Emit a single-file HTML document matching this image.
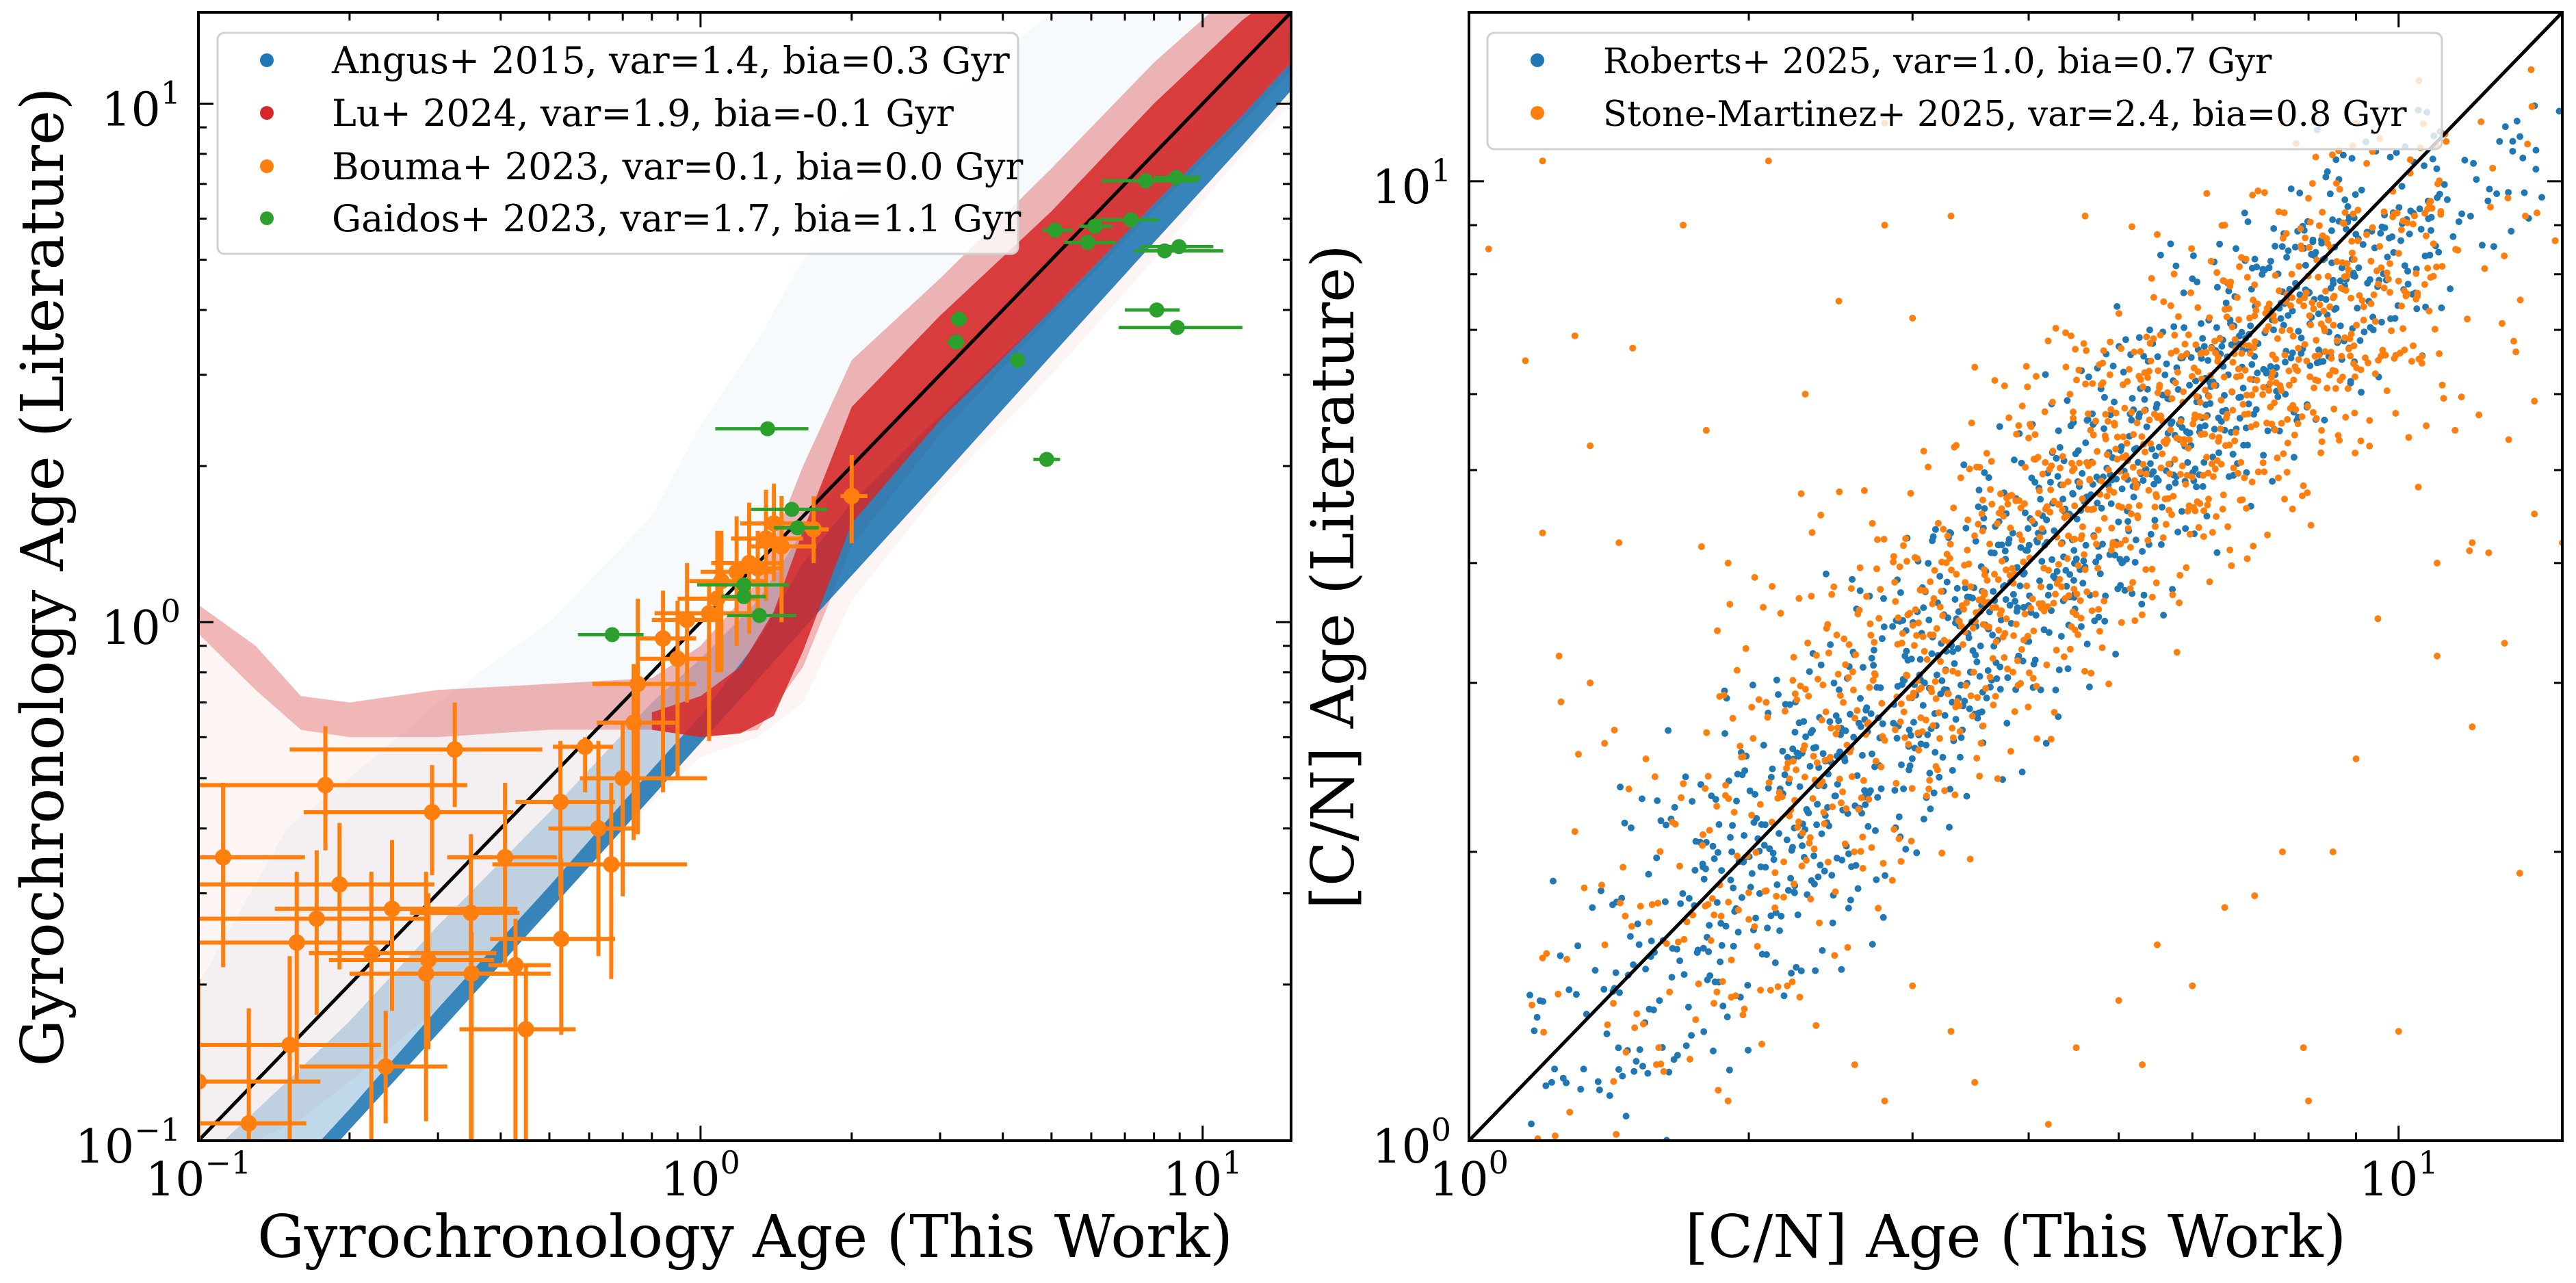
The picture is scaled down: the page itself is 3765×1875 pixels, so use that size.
<!DOCTYPE html>
<html><head><meta charset="utf-8">
<style>
html,body{margin:0;padding:0;background:#fff;}
svg{display:block;font-family:"DejaVu Serif","Liberation Serif",serif;}
</style></head>
<body>
<svg id="fig" width="3765" height="1875" viewBox="0 0 3765 1875" xmlns="http://www.w3.org/2000/svg">
<defs>
<clipPath id="clipL"><rect x="290" y="18" width="1597" height="1649"/></clipPath>
<clipPath id="clipR"><rect x="2147" y="18" width="1598" height="1649"/></clipPath>
</defs>
<rect x="0" y="0" width="3765" height="1875" fill="#fff"/>
<g id="gL" clip-path="url(#clipL)"></g>
<g id="gR" clip-path="url(#clipR)"></g>
<g id="axes"></g>
</svg>
<script>
// ---------- Left panel data (gyrochronology) ----------
const angusX      = [0.1,0.15,0.2,0.3,0.5,0.8,1.0,1.3,1.6,2,3,5,8,12,15];
const angusDenseLo= [0.05,0.077,0.105,0.161,0.278,0.46,0.585,0.775,0.97,1.23,1.89,3.27,5.4,8.3,10.6];
const angusDenseHi= [0.055,0.085,0.115,0.18,0.31,0.52,0.66,0.92,1.3,1.7,2.5,4.0,6.4,9.5,12];
const angusMidHi  = [0.09,0.13,0.17,0.26,0.43,0.7,0.85,1.1,1.5,2.0,3.0,5,8,12,15];
const angusFaintHi= [0.2,0.4,0.5,0.7,1.0,1.6,2.4,3.5,5,7,10,15,16,16,16];

const luDenseX  = [0.8,1.0,1.2,1.4,1.6,2,3,5,8,12,15];
const luDenseLo = [0.62,0.6,0.61,0.66,0.88,1.55,2.45,4.0,6.4,9.5,12];
const luDenseHi = [0.67,0.72,0.82,1.05,1.5,2.6,3.9,6.2,10,14.5,17];
const luMidX    = [0.1,0.13,0.16,0.2,0.3,0.5,0.8,1.0,1.3,1.6,2,3,5,8,12,15];
const luMidLo   = [0.95,0.74,0.62,0.6,0.6,0.62,0.62,0.6,0.62,0.82,1.4,2.3,3.9,6.2,9.2,11.5];
const luMidHi   = [1.08,0.9,0.72,0.7,0.74,0.76,0.78,0.9,1.2,2.0,3.2,4.6,7.5,12,17,20];
const luFaintLo = [0.1,0.1,0.11,0.13,0.18,0.28,0.45,0.55,0.6,0.7,1.1,1.8,3.0,5.0,8,10];

// Bouma+ 2023: x, y, xlo, xhi, ylo, yhi
const boumaX   = [0.112,0.179,0.324,0.292,0.191,0.172,0.157,0.243,0.221,0.284,0.287,0.349,0.35,0.408,0.428,0.528,0.449,0.236,0.152,0.10,0.126,0.526,0.589,0.626,0.664,0.70,0.736,0.75,0.842,1.04,0.94,1.08,1.18,1.30,2.0,1.68,1.35,1.45,1.25,1.4,0.9,1.1];
const boumaY   = [0.352,0.485,0.568,0.43,0.312,0.268,0.241,0.28,0.23,0.21,0.223,0.275,0.21,0.352,0.218,0.245,0.164,0.139,0.153,0.13,0.108,0.45,0.575,0.40,0.341,0.50,0.64,0.76,0.93,1.04,1.01,1.11,1.25,1.27,1.75,1.51,1.45,1.4,1.3,1.55,0.85,1.2];
const boumaXlo = [0.08,0.08,0.152,0.162,0.08,0.08,0.08,0.142,0.166,0.2,0.182,0.264,0.29,0.313,0.378,0.381,0.331,0.159,0.08,0.08,0.08,0.428,0.508,0.498,0.385,0.575,0.621,0.609,0.75,0.81,0.8,0.9,1.0,1.15,1.9,1.6,1.15,1.25,1.05,1.2,0.75,0.95];
const boumaXhi = [0.163,0.343,0.484,0.424,0.295,0.29,0.24,0.432,0.392,0.42,0.388,0.436,0.503,0.518,0.503,0.676,0.564,0.313,0.231,0.175,0.164,0.676,0.67,0.736,0.94,1.03,0.89,0.98,0.98,1.33,1.1,1.3,1.4,1.45,2.15,1.8,1.6,1.7,1.45,1.65,1.05,1.35];
const boumaYlo = [0.216,0.363,0.44,0.325,0.214,0.175,0.13,0.178,0.1,0.109,0.15,0.08,0.08,0.216,0.08,0.16,0.08,0.108,0.08,0.08,0.08,0.296,0.47,0.227,0.205,0.296,0.38,0.39,0.47,0.59,0.7,0.8,0.9,1.0,1.42,1.3,1.1,1.0,0.95,1.2,0.5,0.8];
const boumaYhi = [0.49,0.63,0.70,0.53,0.41,0.363,0.33,0.38,0.33,0.33,0.3,0.39,0.252,0.49,0.268,0.35,0.218,0.178,0.227,0.205,0.18,0.59,0.60,0.59,0.49,0.64,0.83,1.11,1.15,1.19,1.3,1.5,1.6,1.5,2.1,1.75,1.8,1.75,1.7,1.85,1.1,1.5];

// Gaidos+ 2023: x, y, xlo, xhi
const gaidosX   = [0.667,1.36,1.52,1.56,1.22,1.22,1.31,3.27,3.23,4.28,4.89,5.08,5.9,6.1,7.2,7.7,8.85,8.4,8.97,8.1,8.9];
const gaidosY   = [0.946,2.36,1.65,1.52,1.18,1.12,1.03,3.84,3.47,3.2,2.06,5.7,5.4,5.8,5.97,7.1,7.2,5.2,5.3,4.0,3.7];
const gaidosXlo = [0.57,1.07,1.26,1.4,0.985,1.1,1.13,3.15,3.1,4.15,4.6,4.8,5.3,5.7,6.2,6.3,8.0,7.3,7.5,7.0,6.8];
const gaidosXhi = [0.77,1.64,1.79,1.72,1.5,1.35,1.55,3.4,3.35,4.4,5.2,5.5,6.7,6.6,8.2,9.8,9.9,11,10.5,9.0,12];

// ---------- Right panel data ([C/N]) ----------
const binX      = [1.3,1.6,2.0,2.5,3.2,4.0,5.0,6.3,8.0,10,12.6,14.5];
const robMed    = [1.3,1.6,1.96,2.4,3.1,3.9,4.9,6.1,7.5,8.6,9.8,10.9];
const robSpread = [0.13,0.12,0.11,0.11,0.1,0.1,0.1,0.09,0.085,0.075,0.05,0.04];
const robCount  = [35,70,110,140,150,150,150,150,140,85,25,8];
const stoMed    = [1.4,1.6,2.1,2.7,3.3,4.1,5.0,5.8,6.9,7.8,8.0,9.0];
const stoSpread = [0.2,0.18,0.15,0.14,0.12,0.12,0.11,0.11,0.1,0.1,0.15,0.15];
const stoCount  = [20,40,80,120,150,160,170,180,170,105,20,5];
const outX = [1.05,1.2,1.15,1.2,1.3,1.35,1.25,1.35,1.4,1.3,1.2,1.5,1.45,1.55,1.7,1.8,1.9,1.85,2.1,2.3,2.5,2.8,2.8,3.0,3.3,3.3,3.5,4.0,4.6,5.5,6.5,7,7.5,9,8,11.5,12,13,14,15,14,12.5,11,9,8.5,7.5,7,6.5,5.5,5.0,4.5,4.2,3.5,3.3,3.0,2.6,2.2,8,7.9,13.5,10,12,9.5,10.5,11,6,5.3,1.9,1.6,2.8];
const outY = [8.5,10.5,6.5,4.3,6.9,5.3,3.2,3.0,1.6,2.1,1.55,6.7,4.2,2.5,9.0,5.5,4.0,3.4,10.5,6.0,7.5,9.0,11.5,7.2,9.2,11.5,6.4,5.4,9.2,8.8,9.0,7.8,11.5,11.5,9.6,5.5,4.2,3.3,4.5,4.2,5.9,4.1,3.2,2.5,2.0,2.0,1.8,1.75,1.6,1.4,1.25,1.04,1.15,1.3,1.45,1.2,1.45,1.1,1.25,1.9,1.3,2.7,3.5,4.8,4.0,1.45,1.2,1.1,1.25,1.1];

const C_BLUE='#1f77b4', C_RED='#d62728', C_ORANGE='#ff7f0e', C_GREEN='#2ca02c';
const NS='http://www.w3.org/2000/svg';
const L={x0:290,x1:1887,y0:18,y1:1667,xmin:0.1,xmax:15,ymin:0.1,ymax:15};
const R={x0:2147,x1:3745,y0:18,y1:1667,xmin:1,xmax:15,ymin:1,ymax:15};
function sx(A,v){return A.x0+(Math.log10(v)-Math.log10(A.xmin))/(Math.log10(A.xmax)-Math.log10(A.xmin))*(A.x1-A.x0);}
function sy(A,v){return A.y1-(Math.log10(v)-Math.log10(A.ymin))/(Math.log10(A.ymax)-Math.log10(A.ymin))*(A.y1-A.y0);}
function mk(tag,attrs,parent){const e=document.createElementNS(NS,tag);for(const k in attrs)e.setAttribute(k,attrs[k]);parent.appendChild(e);return e;}
const gL=document.getElementById('gL'), gR=document.getElementById('gR'), gA=document.getElementById('axes');

function band(A,g,xs,lo,hi,color,op,name){
  let d='';
  for(let i=0;i<xs.length;i++) d+=(i?'L':'M')+sx(A,xs[i]).toFixed(1)+','+sy(A,hi[i]).toFixed(1);
  for(let i=xs.length-1;i>=0;i--) d+='L'+sx(A,xs[i]).toFixed(1)+','+sy(A,lo[i]).toFixed(1);
  const p=mk('path',{d:d+'Z',fill:color,'fill-opacity':op,stroke:'none'},g);
  
  
}
band(L,gL,angusX,angusDenseLo,angusFaintHi,C_BLUE,0.04,'angus-sparse-cloud');
band(L,gL,luMidX,luFaintLo,luMidHi,C_RED,0.05,'lu-sparse-cloud');
band(L,gL,angusX,angusDenseLo,angusMidHi,C_BLUE,0.25,'angus-mid-cloud');
band(L,gL,luMidX,luMidLo,luMidHi,C_RED,0.3,'lu-mid-cloud');
band(L,gL,angusX,angusDenseLo,angusDenseHi,C_BLUE,0.85,'angus-dense-band');
band(L,gL,luDenseX,luDenseLo,luDenseHi,C_RED,0.85,'lu-dense-band');

let dl=mk('line',{x1:sx(L,0.1),y1:sy(L,0.1),x2:sx(L,15),y2:sy(L,15),stroke:'#000','stroke-width':5},gL);



for(let i=0;i<boumaX.length;i++){
  const g=mk('g',{},gL);
  
  
  const cx=sx(L,boumaX[i]), cy=sy(L,boumaY[i]);
  mk('line',{x1:sx(L,boumaXlo[i]),x2:sx(L,boumaXhi[i]),y1:cy,y2:cy,stroke:C_ORANGE,'stroke-width':6},g);
  mk('line',{x1:cx,x2:cx,y1:sy(L,boumaYlo[i]),y2:sy(L,boumaYhi[i]),stroke:C_ORANGE,'stroke-width':6},g);
  mk('circle',{cx:cx,cy:cy,r:12,fill:C_ORANGE},g);
}
for(let i=0;i<gaidosX.length;i++){
  const g=mk('g',{},gL);
  
  
  const cx=sx(L,gaidosX[i]), cy=sy(L,gaidosY[i]);
  mk('line',{x1:sx(L,gaidosXlo[i]),x2:sx(L,gaidosXhi[i]),y1:cy,y2:cy,stroke:C_GREEN,'stroke-width':5},g);
  mk('circle',{cx:cx,cy:cy,r:11,fill:C_GREEN},g);
}

function halton(i,b){let f=1,r=0;while(i>0){f/=b;r+=f*(i%b);i=Math.floor(i/b);}return r;}
function cloud(meds,spreads,counts,color,name,off){
  const g=mk('g',{fill:color},gR);
  
  
  let k=off;
  for(let b=0;b<binX.length;b++){
    const lx0=Math.log10(binX[b]);
    for(let j=0;j<counts[b];j++){
      k++;
      const u=halton(k,2)-0.5, v=halton(k,3)+halton(k,5)+halton(k,7)-1.5;
      const lx=lx0+u*0.1;
      const ly=Math.log10(meds[b])+u*0.1*0.9+v*spreads[b]*1.6;
      mk('circle',{cx:sx(R,Math.pow(10,lx)).toFixed(1),cy:sy(R,Math.pow(10,ly)).toFixed(1),r:5},g);
    }
  }
}
cloud(robMed,robSpread,robCount,C_BLUE,'roberts-points',0);
cloud(stoMed,stoSpread,stoCount,C_ORANGE,'stone-martinez-points',5000);
const go=mk('g',{fill:C_ORANGE},gR);


for(let i=0;i<outX.length;i++) mk('circle',{cx:sx(R,outX[i]),cy:sy(R,outY[i]),r:5},go);
dl=mk('line',{x1:sx(R,1),y1:sy(R,1),x2:sx(R,15),y2:sy(R,15),stroke:'#000','stroke-width':5},gR);



function label10(parent,x,y,exp,anchor,name){
  const t=mk('text',{x:x,y:y,'font-size':68,'text-anchor':anchor,fill:'#000'},parent);
  
  
  t.appendChild(document.createTextNode('10'));
  const s=mk('tspan',{'font-size':46,dy:-32},t);
  s.textContent=exp;
}
function axes(A,decadesX,decadesY,pre){
  const g=mk('g',{},gA);
  
  
  const r=mk('rect',{x:A.x0,y:A.y0,width:A.x1-A.x0,height:A.y1-A.y0,fill:'none',stroke:'#000','stroke-width':4},g);
  
  
  const tk=mk('g',{stroke:'#000','stroke-width':3},g);
  
  
  for(const d of decadesX){
    for(let m=1;m<10;m++){
      const v=m*Math.pow(10,d); if(v<A.xmin-1e-9||v>A.xmax+1e-9) continue;
      const x=sx(A,v), len=m===1?22:12;
      mk('line',{x1:x,x2:x,y1:A.y1,y2:A.y1-len},tk);
      mk('line',{x1:x,x2:x,y1:A.y0,y2:A.y0+len},tk);
    }
    const v=Math.pow(10,d);
    if(v>=A.xmin&&v<=A.xmax) label10(g,sx(A,v),1747,d<0?'−'+(-d):String(d),'middle',pre+'-x-tick-label');
  }
  for(const d of decadesY){
    for(let m=1;m<10;m++){
      const v=m*Math.pow(10,d); if(v<A.ymin-1e-9||v>A.ymax+1e-9) continue;
      const y=sy(A,v), len=m===1?22:12;
      mk('line',{x1:A.x0,x2:A.x0+len,y1:y,y2:y},tk);
      mk('line',{x1:A.x1,x2:A.x1-len,y1:y,y2:y},tk);
    }
    const v=Math.pow(10,d);
    if(v>=A.ymin&&v<=A.ymax) label10(g,A.x0-26,sy(A,v)+32,d<0?'−'+(-d):String(d),'end',pre+'-y-tick-label');
  }
}
axes(L,[-1,0,1],[-1,0,1],'left');
axes(R,[0,1],[0,1],'right');

function txt(x,y,s,size,rot,name){
  const t=mk('text',{x:x,y:y,'font-size':size,'text-anchor':'middle',fill:'#000'},gA);
  if(rot) t.setAttribute('transform','rotate(-90 '+x+' '+y+')');
  
  
  t.textContent=s;
}
txt(1089,1837,'Gyrochronology Age (This Work)',86,false,'left-x-axis-title');
txt(92,843,'Gyrochronology Age (Literature)',86,true,'left-y-axis-title');
txt(2946,1837,'[C/N] Age (This Work)',86,false,'right-x-axis-title');
txt(1978,843,'[C/N] Age (Literature)',86,true,'right-y-axis-title');

function legend(x,y,w,h,items,mx,tx,rows,fs,name){
  const g=mk('g',{},gA);
  
  
  mk('rect',{x:x,y:y,width:w,height:h,rx:10,fill:'#fff','fill-opacity':0.8,stroke:'#d0d0d0','stroke-width':3},g);
  items.forEach((it,i)=>{
    const e=mk('g',{},g);
    
    
    mk('circle',{cx:mx,cy:rows[i],r:10,fill:it[1]},e);
    const t=mk('text',{x:tx,y:rows[i]+19,'font-size':fs,fill:'#000'},e);
    t.textContent=it[0];
  });
}
legend(318,48,1170,323,[
 ['Angus+ 2015, var=1.4, bia=0.3 Gyr',C_BLUE],
 ['Lu+ 2024, var=1.9, bia=-0.1 Gyr',C_RED],
 ['Bouma+ 2023, var=0.1, bia=0.0 Gyr',C_ORANGE],
 ['Gaidos+ 2023, var=1.7, bia=1.1 Gyr',C_GREEN]],390,485,[88,165,243,319],54,'left-legend');
legend(2174,48,1395,170,[
 ['Roberts+ 2025, var=1.0, bia=0.7 Gyr',C_BLUE],
 ['Stone-Martinez+ 2025, var=2.4, bia=0.8 Gyr',C_ORANGE]],2247,2343,[88,165],51,'right-legend');
</script>
</body></html>
